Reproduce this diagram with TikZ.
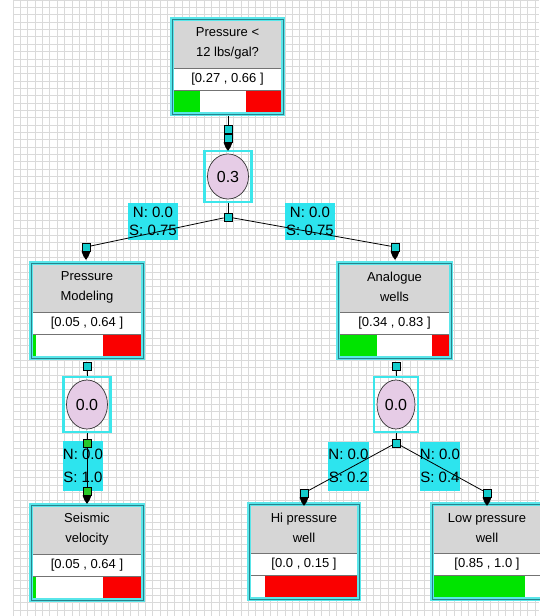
\documentclass[tikz,border=0pt]{standalone}
\usepackage{fontspec}
\setmainfont{Liberation Sans}
\usetikzlibrary{shapes.geometric}
\definecolor{gridc}{RGB}{218,218,218}
\definecolor{glow}{RGB}{90,230,234}
\definecolor{frameline}{RGB}{40,130,140}
\definecolor{boxgray}{RGB}{214,214,214}
\definecolor{bargreen}{RGB}{0,228,0}
\definecolor{barred}{RGB}{250,0,0}
\definecolor{lblcyan}{RGB}{45,228,238}
\definecolor{sqcyan}{RGB}{20,205,205}
\definecolor{lilac}{RGB}{230,204,230}
\definecolor{sqgreen}{RGB}{40,200,40}
\definecolor{circframe}{RGB}{60,230,235}
\newcommand{\boxfont}{\fontsize{13}{20}\selectfont}
\newcommand{\ivfont}{\fontsize{13}{15}\selectfont}
\newcommand{\lblfont}{\fontsize{15}{18}\selectfont}
\newcommand{\lblfontb}{\fontsize{15}{23}\selectfont}
\newcommand{\circfont}{\fontsize{16}{18}\selectfont}
\tikzset{
  sqbox/.style={rectangle, draw=black, line width=0.6, fill=sqcyan, minimum size=8, inner sep=0},
  gsqbox/.style={sqbox, fill=sqgreen},
  lbl/.style={rectangle, fill=lblcyan, inner sep=0, align=center, font=\lblfont},
  lblb/.style={lbl, font=\lblfontb},
  conn/.style={draw=black, line width=0.8},
  circfr/.style={rectangle, draw=circframe, line width=2.5, inner sep=0},
  circnode/.style={ellipse, draw=black!80, line width=0.7, fill=lilac, inner sep=0, font=\circfont},
  boxfr/.style={rectangle, draw=glow, line width=3.5, inner sep=0, outer sep=0, anchor=north west},
  boxtext/.style={align=center, font=\boxfont, inner sep=0},
}
% name, left x, top y, width, text, interval, green width, red width
\newcommand{\dbox}[8]{%
  \fill[boxgray] (#2,#3) rectangle ++(#4,49);
  \fill[white] (#2,#3+49) rectangle ++(#4,46);
  \fill[bargreen] (#2,#3+71) rectangle ++(#7,24);
  \fill[barred] (#2+#4-#8,#3+71) rectangle ++(#8,24);
  \draw[black!55, line width=0.6] (#2,#3+49) -- ++(#4,0) (#2,#3+71) -- ++(#4,0);
  \node[boxfr, minimum width=#4, minimum height=95] (#1) at (#2,#3) {};
  \draw[frameline, line width=0.8] (#1.north west) rectangle (#1.south east);
  \node[boxtext] at (#2+#4/2,#3+24) {#5};
  \node[font=\ivfont, inner sep=0] at (#2+#4/2,#3+60) {#6};
}
\newcommand{\ahead}[1]{\fill[black] (#1.south) ++(-4.5,0) -- ++(9,0) -- ++(-2,5) -- ++(-2.5,3.5) -- ++(-2.5,-3.5) -- cycle;}
\begin{document}
\begin{tikzpicture}[x=1pt,y=-1pt]
\useasboundingbox (0,0) rectangle (539,616);
\fill[white] (0,0) rectangle (539,616);
% grid
\foreach \i in {0,...,72} \draw[gridc, line width=0.6] (13+\i*7.35,0) -- (13+\i*7.35,616);
\foreach \j in {0,...,84} \draw[gridc, line width=0.6] (13,\j*7.35) -- (539,\j*7.35);

% labels
\node[lbl, minimum width=50, minimum height=37] (L1) at (153,221.5) {N: 0.0\\S: 0.75};
\node[lbl, minimum width=50, minimum height=37] (L2) at (310,221.5) {N: 0.0\\S: 0.75};
\node[lblb, minimum width=40, minimum height=50] (L3) at (83,466) {N: 0.0\\S: 1.0};
\node[lblb, minimum width=39, minimum height=49] (L4) at (348.5,466) {N: 0.0\\S: 0.2};
\node[lblb, minimum width=38, minimum height=49] (L5) at (440,466) {N: 0.0\\S: 0.4};

% connector points
\node[sqbox] (S1a) at (228,129) {};
\node[sqbox] (S1b) at (228,138) {};
\node[sqbox] (J1) at (228,217) {};
\node[sqbox] (A1) at (86,247) {};
\node[sqbox] (A2) at (395,247) {};
\node[sqbox] (B1) at (87,366) {};
\node[sqbox] (B2) at (396,366) {};
\node[gsqbox] (G1) at (87,443) {};
\node[gsqbox] (G2) at (87,491) {};
\node[sqbox] (J3) at (396,443) {};
\node[sqbox] (A3) at (304,493) {};
\node[sqbox] (A4) at (487,493) {};

% circle frames
\node[circfr, minimum width=47, minimum height=51] (F1) at (228,176.5) {};
\node[circfr, minimum width=47, minimum height=55] (F2) at (87,404.5) {};
\node[circfr, minimum width=44, minimum height=55] (F3) at (396,404.5) {};

% connectors
\draw[conn] (228,113) -- (S1b);
\draw[conn] (F1.south) -- (J1);
\draw[conn] (J1) -- (A1);
\draw[conn] (J1) -- (A2);
\draw[conn] (B1) -- (F2.north);
\draw[conn] (F2.south) -- (G1);
\draw[conn] (G1) -- (G2);
\draw[conn] (B2) -- (F3.north);
\draw[conn] (F3.south) -- (J3);
\draw[conn] (J3) -- (A3);
\draw[conn] (J3) -- (A4);

% boxes
\dbox{T}{172}{19}{111}{Pressure <\\12 lbs/gal?}{[0.27 , 0.66 ]}{28}{37}
\dbox{PM}{31}{263}{112}{Pressure\\Modeling}{[0.05 , 0.64 ]}{5}{40}
\dbox{AW}{338}{263}{113}{Analogue\\wells}{[0.34 , 0.83 ]}{39}{19}
\dbox{SV}{31}{505}{112}{Seismic\\velocity}{[0.05 , 0.64 ]}{5}{40}
\dbox{HP}{249}{504}{110}{Hi pressure\\well}{[0.0 , 0.15 ]}{0}{94}
\dbox{LP}{432}{504}{110}{Low pressure\\well}{[0.85 , 1.0 ]}{93}{0}

% circles
\node[circnode, minimum width=41, minimum height=45] (C1) at (F1) {0.3};
\node[circnode, minimum width=41, minimum height=49] (C2) at (F2) {0.0};
\node[circnode, minimum width=38, minimum height=49] (C3) at (F3) {0.0};

% squares on top again
\foreach \n in {S1a,S1b,J1,A1,A2,B1,B2,J3,A3,A4} \node[sqbox] at (\n) {};
\foreach \n in {G1,G2} \node[gsqbox] at (\n) {};
% arrowheads
\ahead{S1b}
\ahead{A1}
\ahead{A2}
\ahead{G2}
\ahead{A3}
\ahead{A4}
\end{tikzpicture}
\end{document}
